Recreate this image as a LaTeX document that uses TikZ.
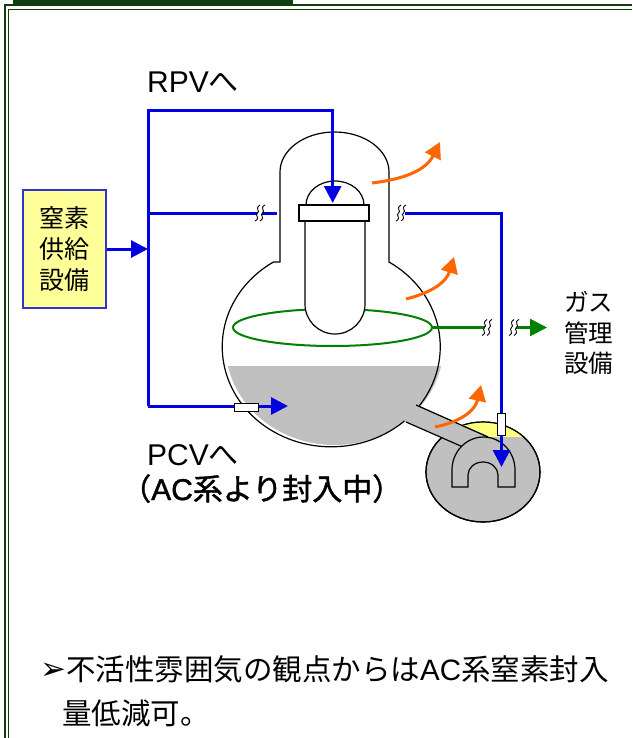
\documentclass[tikz,border=0pt]{standalone}
\usepackage{fontspec}
\setmainfont{Noto Sans CJK JP}
\newfontfamily\lat{Liberation Sans}
\newfontfamily\sym{DejaVu Sans}
\newfontfamily\jpbold[FakeBold=1.4]{Noto Sans CJK JP}
\newfontfamily\latbold[FakeBold=1.4]{Liberation Sans}
\usetikzlibrary{arrows.meta,positioning,shapes.geometric}

\definecolor{framegreen}{HTML}{0F3F0F}
\definecolor{pipeblue}{HTML}{0000E0}
\definecolor{boxblue}{HTML}{3333CC}
\definecolor{heatorange}{HTML}{FF6600}
\definecolor{gasgreen}{HTML}{008000}
\definecolor{poolgray}{HTML}{C0C0C0}
\definecolor{boxyellow}{HTML}{FFFF99}
\definecolor{airyellow}{HTML}{FFFF80}

\tikzset{
  n2line/.style={draw=pipeblue, line width=3pt},
  n2arrow/.style={n2line, -{Triangle[length=17pt,width=17pt]}},
  heat/.style={draw=heatorange, line width=3pt, -{Triangle[length=16pt,width=17pt]}},
  offgas/.style={draw=gasgreen, line width=2.5pt},
  vessel/.style={draw=black, line width=1.2pt},
  port/.style={draw=black, fill=white, line width=0.8pt, inner sep=0pt},
  pics/pipebreak/.style={code={
    \fill[white] (0,-8) .. controls (-6,-4) and (1,-2) .. (-2.5,0)
      .. controls (-6,2) and (1,5) .. (-5,8) -- (0,8)
      .. controls (6,4) and (-1,2) .. (2.5,0)
      .. controls (6,-2) and (-1,-5) .. (5,-8) -- cycle;
    \draw[black, line width=0.9pt] (0,-8) .. controls (-6,-4) and (1,-2) .. (-2.5,0)
      .. controls (-6,2) and (1,5) .. (-5,8);
    \draw[black, line width=0.9pt] (5,-8) .. controls (-1,-5) and (6,-2) .. (2.5,0)
      .. controls (-1,2) and (6,4) .. (0,8);
  }}
}

\begin{document}
\begin{tikzpicture}[x=1pt,y=-1pt]
\useasboundingbox (0,0) rectangle (632,738);

\fill[framegreen] (13,0) rectangle (293,6);
\draw[framegreen, line width=2pt] (4.5,738) -- (4.5,5.5) -- (632,5.5);
\draw[framegreen, line width=1.5pt] (8.5,738) -- (8.5,9.5) -- (632,9.5);

% containment vessel
\begin{scope}
  \clip (334.5,345) ellipse [x radius=109, y radius=100];
  \fill[poolgray] (220,366) rectangle (450,450);
\end{scope}
\draw[vessel] (280,262) -- (280,172)
  arc[start angle=180, end angle=360, x radius=54.5, y radius=40]
  -- (389,262) arc[start angle=-58, end angle=238, x radius=109, y radius=100] -- cycle;

\node[draw=gasgreen, line width=2pt, ellipse, minimum width=199pt, minimum height=37pt, inner sep=0pt] (ring) at (332.5,327.5) {};

% reactor vessel
\draw[vessel, fill=white] (305,221) -- (305,304) arc[start angle=180, end angle=0, radius=30] -- (365,221);
\draw[vessel, fill=white] (306,205) arc[start angle=180, end angle=360, x radius=29, y radius=24] -- cycle;
\node[port, vessel, minimum width=70pt, minimum height=16pt] (flange) at (334,213) {};

% suppression chamber
\draw[vessel, fill=poolgray] (483,472) ellipse [x radius=57, y radius=50];
\begin{scope}
  \clip (483,472) ellipse [x radius=57, y radius=50];
  \fill[airyellow] (420,420) rectangle (545,437);
\end{scope}
\draw[vessel] (483,472) ellipse [x radius=57, y radius=50];
\fill[poolgray] (413,403) -- (488,436) -- (463,447) -- (404,421) -- cycle;
\draw[vessel] (416,405) -- (488,437) (406,422) -- (463,447);
\draw[vessel, fill=poolgray] (452,487) -- (452,470)
  arc[start angle=180, end angle=360, x radius=31.5, y radius=33] -- (515,487) -- (498,487) -- (498,475)
  arc[start angle=0, end angle=-180, x radius=15, y radius=13] -- (468,487) -- cycle;

% nitrogen supply
\node[draw=boxblue, line width=1.5pt, fill=boxyellow, minimum width=83pt, minimum height=118pt,
  inner sep=0pt, align=center, font=\fontsize{25}{31}\selectfont] (supply) at (64.5,249) {窒素\\供給\\設備};

\coordinate (hdrtop) at (148,111);
\coordinate (hdrmid) at (148,213);
\coordinate (hdrbot) at (148,406);
\coordinate (rpvin) at (332.7,203);
\coordinate (dwend) at (277,213);
\coordinate (pcvin) at (288,406);
\coordinate (spray) at (405,213);
\coordinate (ventin) at (501.5,467);

\draw[n2arrow] (supply.east) -- (supply.east -| hdrtop);
\draw[n2arrow] (hdrbot) -- (hdrtop) -| (rpvin);
\draw[n2line] (hdrmid) -- (dwend);
\draw[n2arrow] (hdrbot) -- (pcvin);
\node[port, minimum width=24pt, minimum height=8pt] (pcvport) at (246,407) {};
\node[port, minimum width=8pt, minimum height=22pt] (vbreak) at (501.5,424) {};
\draw[n2line] (spray) -| (vbreak.north);
\draw[n2arrow] (vbreak.south) -- (ventin);

\pic at (260,213) {pipebreak};
\pic at (401,213) {pipebreak};

% off-gas line
\coordinate (gascut) at (487,327.5);
\coordinate (gasout) at (547,327.5);
\draw[offgas] (ring.east) -- (gascut);
\draw[offgas, -{Triangle[length=17pt,width=17pt]}] (516,327.5) -- (gasout);
\pic at (gascut) {pipebreak};
\pic at (514,327.5) {pipebreak};

% heat release
\coordinate (h1a) at (372,183);
\coordinate (h1b) at (440,142);
\coordinate (h2a) at (406,299);
\coordinate (h2b) at (454,257);
\coordinate (h3a) at (435,427);
\coordinate (h3b) at (481,385);
\draw[heat] (h1a) .. controls (405,179) and (426,170) .. (h1b);
\draw[heat] (h2a) .. controls (430,293) and (446,283) .. (h2b);
\draw[heat] (h3a) .. controls (460,422) and (475,411) .. (h3b);

% labels
\node[anchor=base west, inner sep=0pt, font=\fontsize{30}{36}\selectfont] (rpvlbl) at (147,93) {{\lat RPV}へ};
\node[anchor=base west, inner sep=0pt, font=\fontsize{30}{36}\selectfont] (pcvlbl) at (147,465) {{\lat PCV}へ};
\node[anchor=base west, inner sep=0pt, font=\fontsize{30}{36}\selectfont] (aclbl) at (121,500) {\jpbold （{\latbold AC}系より封入中）};
\node[anchor=west, inner sep=0pt, align=left, font=\fontsize{24.5}{30.5}\selectfont] (gaslbl) at (564,333) {ガス\\管理\\設備};
\node[anchor=west, inner sep=0pt, align=left, font=\fontsize{29.5}{44}\selectfont] (note) at (40,691)
  {\raisebox{1pt}{\sym\fontsize{31}{31}\selectfont ➢}不活性雰囲気の観点からは{\lat AC}系窒素封入\\\hspace*{22pt}量低減可。};
\end{tikzpicture}
\end{document}
